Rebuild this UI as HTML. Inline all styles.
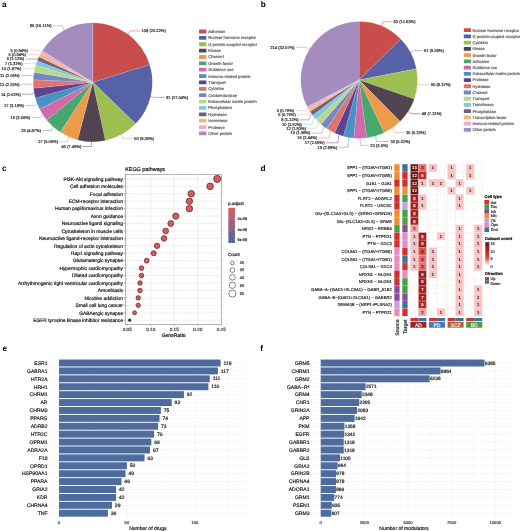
<!DOCTYPE html><html><head><meta charset="utf-8"><style>html,body{margin:0;padding:0;background:#fff;overflow:hidden}svg{display:block;filter:blur(0.35px);font-family:"Liberation Sans",sans-serif}text{text-rendering:geometricPrecision;stroke-width:0.2px}</style></head><body>
<svg width="520" height="531" viewBox="0 0 520 531" font-family="Liberation Sans, sans-serif">
<rect width="520" height="531" fill="#fff"/>
<text x="2" y="6.6" font-size="8.2" font-weight="bold" fill="#000" stroke="none">a</text>
<text x="260.8" y="6.6" font-size="8.2" font-weight="bold" fill="#000" stroke="none">b</text>
<text x="2" y="171.3" font-size="8.2" font-weight="bold" fill="#000" stroke="none">c</text>
<text x="260.4" y="171" font-size="8.2" font-weight="bold" fill="#000" stroke="none">d</text>
<text x="2.6" y="350.8" font-size="8.2" font-weight="bold" fill="#000" stroke="none">e</text>
<text x="260.3" y="350.8" font-size="8.2" font-weight="bold" fill="#000" stroke="none">f</text>
<g font-size="4.05" fill="#333">
<path d="M92.8,82.3 L92.80,22.70 A59.6,59.6 0 0 1 149.74,64.68 Z" fill="#c94d4b" stroke="#fff" stroke-width="0.25" stroke-opacity="0.5"/>
<path d="M92.8,82.3 L149.74,64.68 A59.6,59.6 0 0 1 135.56,123.82 Z" fill="#5562a8" stroke="#fff" stroke-width="0.25" stroke-opacity="0.5"/>
<path d="M92.8,82.3 L135.56,123.82 A59.6,59.6 0 0 1 105.33,140.57 Z" fill="#9dbf50" stroke="#fff" stroke-width="0.25" stroke-opacity="0.5"/>
<path d="M92.8,82.3 L105.33,140.57 A59.6,59.6 0 0 1 77.54,139.91 Z" fill="#524450" stroke="#fff" stroke-width="0.25" stroke-opacity="0.5"/>
<path d="M92.8,82.3 L77.54,139.91 A59.6,59.6 0 0 1 60.31,132.27 Z" fill="#ee9a4b" stroke="#fff" stroke-width="0.25" stroke-opacity="0.5"/>
<path d="M92.8,82.3 L60.31,132.27 A59.6,59.6 0 0 1 46.77,120.16 Z" fill="#47a76d" stroke="#fff" stroke-width="0.25" stroke-opacity="0.5"/>
<path d="M92.8,82.3 L46.77,120.16 A59.6,59.6 0 0 1 39.52,109.01 Z" fill="#d16aab" stroke="#fff" stroke-width="0.25" stroke-opacity="0.5"/>
<path d="M92.8,82.3 L39.52,109.01 A59.6,59.6 0 0 1 35.28,97.89 Z" fill="#4a91c4" stroke="#fff" stroke-width="0.25" stroke-opacity="0.5"/>
<path d="M92.8,82.3 L35.28,97.89 A59.6,59.6 0 0 1 33.50,88.25 Z" fill="#5d4392" stroke="#fff" stroke-width="0.25" stroke-opacity="0.5"/>
<path d="M92.8,82.3 L33.50,88.25 A59.6,59.6 0 0 1 33.25,79.85 Z" fill="#e0736d" stroke="#fff" stroke-width="0.25" stroke-opacity="0.5"/>
<path d="M92.8,82.3 L33.25,79.85 A59.6,59.6 0 0 1 34.07,72.18 Z" fill="#7387c5" stroke="#fff" stroke-width="0.25" stroke-opacity="0.5"/>
<path d="M92.8,82.3 L34.07,72.18 A59.6,59.6 0 0 1 35.66,65.36 Z" fill="#b5d88b" stroke="#fff" stroke-width="0.25" stroke-opacity="0.5"/>
<path d="M92.8,82.3 L35.66,65.36 A59.6,59.6 0 0 1 37.25,60.71 Z" fill="#80c5e1" stroke="#fff" stroke-width="0.25" stroke-opacity="0.5"/>
<path d="M92.8,82.3 L37.25,60.71 A59.6,59.6 0 0 1 38.91,56.85 Z" fill="#725f79" stroke="#fff" stroke-width="0.25" stroke-opacity="0.5"/>
<path d="M92.8,82.3 L38.91,56.85 A59.6,59.6 0 0 1 40.50,53.72 Z" fill="#f1b776" stroke="#fff" stroke-width="0.25" stroke-opacity="0.5"/>
<path d="M92.8,82.3 L40.50,53.72 A59.6,59.6 0 0 1 42.27,50.70 Z" fill="#f2a7cf" stroke="#fff" stroke-width="0.25" stroke-opacity="0.5"/>
<path d="M92.8,82.3 L42.27,50.70 A59.6,59.6 0 0 1 92.80,22.70 Z" fill="#a48cbf" stroke="#fff" stroke-width="0.25" stroke-opacity="0.5"/>
<polyline points="128.17,34.33 129.95,30.90 140.30,30.90" fill="none" stroke="#c94d4b" stroke-width="0.5"/>
<text stroke="#333" x="141.50" y="32.35">108 (20.22%)</text>
<polyline points="150.76,96.20 153.67,97.40 164.80,97.40" fill="none" stroke="#5562a8" stroke-width="0.5"/>
<text stroke="#333" x="166.00" y="98.85">91 (17.04%)</text>
<polyline points="121.68,134.43 123.14,138.70 133.00,138.70" fill="none" stroke="#9dbf50" stroke-width="0.5"/>
<text stroke="#333" x="134.20" y="140.15">50 (9.36%)</text>
<polyline points="91.40,141.88 91.33,146.50 82.60,146.50" fill="none" stroke="#524450" stroke-width="0.5"/>
<text stroke="#333" x="81.40" y="147.95" text-anchor="end">40 (7.49%)</text>
<polyline points="68.62,136.78 67.41,141.70 59.20,141.70" fill="none" stroke="#ee9a4b" stroke-width="0.5"/>
<text stroke="#333" x="58.00" y="143.15" text-anchor="end">27 (5.06%)</text>
<polyline points="53.08,126.73 51.08,130.60 42.20,130.60" fill="none" stroke="#47a76d" stroke-width="0.5"/>
<text stroke="#333" x="41.00" y="132.05" text-anchor="end">26 (4.87%)</text>
<polyline points="42.83,114.79 40.32,117.70 31.40,117.70" fill="none" stroke="#d16aab" stroke-width="0.5"/>
<text stroke="#333" x="30.20" y="119.15" text-anchor="end">19 (3.56%)</text>
<polyline points="37.12,103.56 34.32,105.60 25.10,105.60" fill="none" stroke="#4a91c4" stroke-width="0.5"/>
<text stroke="#333" x="23.90" y="107.05" text-anchor="end">17 (3.18%)</text>
<polyline points="34.19,93.11 31.24,94.20 22.00,94.20" fill="none" stroke="#5d4392" stroke-width="0.5"/>
<text stroke="#333" x="20.80" y="95.65" text-anchor="end">14 (2.62%)</text>
<polyline points="33.23,84.05 30.23,84.20 20.80,84.20" fill="none" stroke="#e0736d" stroke-width="0.5"/>
<text stroke="#333" x="19.60" y="85.65" text-anchor="end">12 (2.25%)</text>
<polyline points="33.53,76.00 30.55,75.50 20.80,75.50" fill="none" stroke="#7387c5" stroke-width="0.5"/>
<text stroke="#333" x="19.60" y="76.95" text-anchor="end">11 (2.06%)</text>
<polyline points="34.76,68.74 31.84,68.30 22.50,68.30" fill="none" stroke="#b5d88b" stroke-width="0.5"/>
<text stroke="#333" x="21.30" y="69.75" text-anchor="end">10 (1.87%)</text>
<polyline points="36.41,63.02 33.57,63.70 23.70,63.70" fill="none" stroke="#80c5e1" stroke-width="0.5"/>
<text stroke="#333" x="22.50" y="65.15" text-anchor="end">7 (1.31%)</text>
<polyline points="38.04,58.77 35.29,59.00 25.40,59.00" fill="none" stroke="#725f79" stroke-width="0.5"/>
<text stroke="#333" x="24.20" y="60.45" text-anchor="end">6 (1.12%)</text>
<polyline points="39.68,55.27 37.01,54.70 27.20,54.70" fill="none" stroke="#f1b776" stroke-width="0.5"/>
<text stroke="#333" x="26.00" y="56.15" text-anchor="end">5 (0.94%)</text>
<polyline points="41.36,52.20 38.77,50.20 29.20,50.20" fill="none" stroke="#f2a7cf" stroke-width="0.5"/>
<text stroke="#333" x="28.00" y="51.65" text-anchor="end">5 (0.94%)</text>
<polyline points="63.92,30.17 62.46,25.80 52.80,25.80" fill="none" stroke="#a48cbf" stroke-width="0.5"/>
<text stroke="#333" x="51.60" y="27.25" text-anchor="end">86 (16.11%)</text>
</g>
<g font-size="4.1" fill="#666">
<rect x="199" y="29.60" width="7.4" height="3.8" rx="0.6" fill="#c94d4b"/>
<text stroke="#666" x="208.3" y="32.95">Adhesion</text>
<rect x="199" y="35.97" width="7.4" height="3.8" rx="0.6" fill="#5562a8"/>
<text stroke="#666" x="208.3" y="39.32">Nuclear hormone receptor</text>
<rect x="199" y="42.34" width="7.4" height="3.8" rx="0.6" fill="#9dbf50"/>
<text stroke="#666" x="208.3" y="45.69">G protein-coupled receptor</text>
<rect x="199" y="48.71" width="7.4" height="3.8" rx="0.6" fill="#524450"/>
<text stroke="#666" x="208.3" y="52.06">Kinase</text>
<rect x="199" y="55.08" width="7.4" height="3.8" rx="0.6" fill="#ee9a4b"/>
<text stroke="#666" x="208.3" y="58.43">Channel</text>
<rect x="199" y="61.45" width="7.4" height="3.8" rx="0.6" fill="#47a76d"/>
<text stroke="#666" x="208.3" y="64.80">Growth factor</text>
<rect x="199" y="67.82" width="7.4" height="3.8" rx="0.6" fill="#d16aab"/>
<text stroke="#666" x="208.3" y="71.17">Guidance cue</text>
<rect x="199" y="74.19" width="7.4" height="3.8" rx="0.6" fill="#4a91c4"/>
<text stroke="#666" x="208.3" y="77.54">Immune-related protein</text>
<rect x="199" y="80.56" width="7.4" height="3.8" rx="0.6" fill="#5d4392"/>
<text stroke="#666" x="208.3" y="83.91">Transport</text>
<rect x="199" y="86.93" width="7.4" height="3.8" rx="0.6" fill="#e0736d"/>
<text stroke="#666" x="208.3" y="90.28">Cytokine</text>
<rect x="199" y="93.30" width="7.4" height="3.8" rx="0.6" fill="#7387c5"/>
<text stroke="#666" x="208.3" y="96.65">Oxidoreductase</text>
<rect x="199" y="99.67" width="7.4" height="3.8" rx="0.6" fill="#b5d88b"/>
<text stroke="#666" x="208.3" y="103.02">Extracellular matrix protein</text>
<rect x="199" y="106.04" width="7.4" height="3.8" rx="0.6" fill="#80c5e1"/>
<text stroke="#666" x="208.3" y="109.39">Phosphatase</text>
<rect x="199" y="112.41" width="7.4" height="3.8" rx="0.6" fill="#725f79"/>
<text stroke="#666" x="208.3" y="115.76">Hydrolase</text>
<rect x="199" y="118.78" width="7.4" height="3.8" rx="0.6" fill="#f1b776"/>
<text stroke="#666" x="208.3" y="122.13">Isomerase</text>
<rect x="199" y="125.15" width="7.4" height="3.8" rx="0.6" fill="#f2a7cf"/>
<text stroke="#666" x="208.3" y="128.50">Protease</text>
<rect x="199" y="131.52" width="7.4" height="3.8" rx="0.6" fill="#a48cbf"/>
<text stroke="#666" x="208.3" y="134.87">Other protein</text>
</g>
<g font-size="4.05" fill="#333">
<path d="M359.1,80.0 L359.10,21.60 A58.4,58.4 0 0 1 400.74,39.05 Z" fill="#c94d4b" stroke="#fff" stroke-width="0.25" stroke-opacity="0.5"/>
<path d="M359.1,80.0 L400.74,39.05 A58.4,58.4 0 0 1 416.41,68.76 Z" fill="#5562a8" stroke="#fff" stroke-width="0.25" stroke-opacity="0.5"/>
<path d="M359.1,80.0 L416.41,68.76 A58.4,58.4 0 0 1 414.30,99.05 Z" fill="#9dbf50" stroke="#fff" stroke-width="0.25" stroke-opacity="0.5"/>
<path d="M359.1,80.0 L414.30,99.05 A58.4,58.4 0 0 1 400.15,121.54 Z" fill="#524450" stroke="#fff" stroke-width="0.25" stroke-opacity="0.5"/>
<path d="M359.1,80.0 L400.15,121.54 A58.4,58.4 0 0 1 384.22,132.72 Z" fill="#ee9a4b" stroke="#fff" stroke-width="0.25" stroke-opacity="0.5"/>
<path d="M359.1,80.0 L384.22,132.72 A58.4,58.4 0 0 1 366.62,137.91 Z" fill="#47a76d" stroke="#fff" stroke-width="0.25" stroke-opacity="0.5"/>
<path d="M359.1,80.0 L366.62,137.91 A58.4,58.4 0 0 1 353.80,138.16 Z" fill="#d16aab" stroke="#fff" stroke-width="0.25" stroke-opacity="0.5"/>
<path d="M359.1,80.0 L353.80,138.16 A58.4,58.4 0 0 1 343.38,136.24 Z" fill="#4a91c4" stroke="#fff" stroke-width="0.25" stroke-opacity="0.5"/>
<path d="M359.1,80.0 L343.38,136.24 A58.4,58.4 0 0 1 334.48,132.96 Z" fill="#5d4392" stroke="#fff" stroke-width="0.25" stroke-opacity="0.5"/>
<path d="M359.1,80.0 L334.48,132.96 A58.4,58.4 0 0 1 326.70,128.59 Z" fill="#e0736d" stroke="#fff" stroke-width="0.25" stroke-opacity="0.5"/>
<path d="M359.1,80.0 L326.70,128.59 A58.4,58.4 0 0 1 320.92,124.19 Z" fill="#7387c5" stroke="#fff" stroke-width="0.25" stroke-opacity="0.5"/>
<path d="M359.1,80.0 L320.92,124.19 A58.4,58.4 0 0 1 316.11,119.53 Z" fill="#b5d88b" stroke="#fff" stroke-width="0.25" stroke-opacity="0.5"/>
<path d="M359.1,80.0 L316.11,119.53 A58.4,58.4 0 0 1 312.54,115.25 Z" fill="#80c5e1" stroke="#fff" stroke-width="0.25" stroke-opacity="0.5"/>
<path d="M359.1,80.0 L312.54,115.25 A58.4,58.4 0 0 1 309.98,111.58 Z" fill="#725f79" stroke="#fff" stroke-width="0.25" stroke-opacity="0.5"/>
<path d="M359.1,80.0 L309.98,111.58 A58.4,58.4 0 0 1 308.52,109.20 Z" fill="#f1b776" stroke="#fff" stroke-width="0.25" stroke-opacity="0.5"/>
<path d="M359.1,80.0 L308.52,109.20 A58.4,58.4 0 0 1 307.19,106.75 Z" fill="#f2a7cf" stroke="#fff" stroke-width="0.25" stroke-opacity="0.5"/>
<path d="M359.1,80.0 L307.19,106.75 A58.4,58.4 0 0 1 359.10,21.60 Z" fill="#a48cbf" stroke="#fff" stroke-width="0.25" stroke-opacity="0.5"/>
<polyline points="381.67,26.14 382.83,21.80 392.30,21.80" fill="none" stroke="#c94d4b" stroke-width="0.5"/>
<text stroke="#333" x="393.50" y="23.25">83 (12.63%)</text>
<polyline points="410.76,52.76 413.41,50.60 422.80,50.60" fill="none" stroke="#5562a8" stroke-width="0.5"/>
<text stroke="#333" x="424.00" y="52.05">61 (9.28%)</text>
<polyline points="417.36,84.05 420.35,84.80 429.70,84.80" fill="none" stroke="#9dbf50" stroke-width="0.5"/>
<text stroke="#333" x="430.90" y="86.25">55 (8.37%)</text>
<polyline points="408.52,111.11 411.06,113.80 420.60,113.80" fill="none" stroke="#524450" stroke-width="0.5"/>
<text stroke="#333" x="421.80" y="115.25">48 (7.31%)</text>
<polyline points="392.65,127.80 394.38,132.40 404.80,132.40" fill="none" stroke="#ee9a4b" stroke-width="0.5"/>
<text stroke="#333" x="406.00" y="133.85">35 (5.33%)</text>
<polyline points="375.63,136.01 376.48,141.50 389.20,141.50" fill="none" stroke="#47a76d" stroke-width="0.5"/>
<text stroke="#333" x="390.40" y="142.95">33 (5.02%)</text>
<polyline points="360.22,138.39 360.27,145.30 369.10,145.30" fill="none" stroke="#d16aab" stroke-width="0.5"/>
<text stroke="#333" x="370.30" y="146.75">23 (3.5%)</text>
<polyline points="348.55,137.44 348.00,147.20 338.50,147.20" fill="none" stroke="#4a91c4" stroke-width="0.5"/>
<text stroke="#333" x="337.30" y="148.65" text-anchor="end">19 (2.89%)</text>
<polyline points="338.86,134.78 337.82,142.80 325.70,142.80" fill="none" stroke="#5d4392" stroke-width="0.5"/>
<text stroke="#333" x="324.50" y="144.25" text-anchor="end">17 (2.59%)</text>
<polyline points="330.51,130.92 329.04,138.00 318.30,138.00" fill="none" stroke="#e0736d" stroke-width="0.5"/>
<text stroke="#333" x="317.10" y="139.45" text-anchor="end">16 (2.44%)</text>
<polyline points="323.74,126.48 321.93,133.00 311.60,133.00" fill="none" stroke="#7387c5" stroke-width="0.5"/>
<text stroke="#333" x="310.40" y="134.45" text-anchor="end">13 (1.98%)</text>
<polyline points="318.45,121.93 316.36,128.70 307.20,128.70" fill="none" stroke="#b5d88b" stroke-width="0.5"/>
<text stroke="#333" x="306.00" y="130.15" text-anchor="end">12 (1.83%)</text>
<polyline points="314.27,117.43 311.97,124.20 303.10,124.20" fill="none" stroke="#80c5e1" stroke-width="0.5"/>
<text stroke="#333" x="301.90" y="125.65" text-anchor="end">10 (1.52%)</text>
<polyline points="311.22,113.44 308.76,119.80 299.90,119.80" fill="none" stroke="#725f79" stroke-width="0.5"/>
<text stroke="#333" x="298.70" y="121.25" text-anchor="end">8 (1.22%)</text>
<polyline points="309.24,110.40 306.68,114.80 297.00,114.80" fill="none" stroke="#f1b776" stroke-width="0.5"/>
<text stroke="#333" x="295.80" y="116.25" text-anchor="end">5 (0.76%)</text>
<polyline points="307.84,107.98 305.21,110.40 295.40,110.40" fill="none" stroke="#f2a7cf" stroke-width="0.5"/>
<text stroke="#333" x="294.20" y="111.85" text-anchor="end">5 (0.76%)</text>
<polyline points="309.24,49.60 306.68,47.30 295.80,47.30" fill="none" stroke="#a48cbf" stroke-width="0.5"/>
<text stroke="#333" x="294.60" y="48.75" text-anchor="end">214 (32.57%)</text>
</g>
<g font-size="4.0" fill="#666">
<rect x="463.8" y="28.30" width="7.2" height="3.8" rx="0.6" fill="#c94d4b"/>
<text stroke="#666" x="472.5" y="31.65">Nuclear hormone receptor</text>
<rect x="463.8" y="34.53" width="7.2" height="3.8" rx="0.6" fill="#5562a8"/>
<text stroke="#666" x="472.5" y="37.88">G protein-coupled receptor</text>
<rect x="463.8" y="40.76" width="7.2" height="3.8" rx="0.6" fill="#9dbf50"/>
<text stroke="#666" x="472.5" y="44.11">Cytokine</text>
<rect x="463.8" y="46.99" width="7.2" height="3.8" rx="0.6" fill="#524450"/>
<text stroke="#666" x="472.5" y="50.34">Kinase</text>
<rect x="463.8" y="53.22" width="7.2" height="3.8" rx="0.6" fill="#ee9a4b"/>
<text stroke="#666" x="472.5" y="56.57">Growth factor</text>
<rect x="463.8" y="59.45" width="7.2" height="3.8" rx="0.6" fill="#47a76d"/>
<text stroke="#666" x="472.5" y="62.80">Adhesion</text>
<rect x="463.8" y="65.68" width="7.2" height="3.8" rx="0.6" fill="#d16aab"/>
<text stroke="#666" x="472.5" y="69.03">Guidance cue</text>
<rect x="463.8" y="71.91" width="7.2" height="3.8" rx="0.6" fill="#4a91c4"/>
<text stroke="#666" x="472.5" y="75.26">Extracellular matrix protein</text>
<rect x="463.8" y="78.14" width="7.2" height="3.8" rx="0.6" fill="#5d4392"/>
<text stroke="#666" x="472.5" y="81.49">Protease</text>
<rect x="463.8" y="84.37" width="7.2" height="3.8" rx="0.6" fill="#e0736d"/>
<text stroke="#666" x="472.5" y="87.72">Hydrolase</text>
<rect x="463.8" y="90.60" width="7.2" height="3.8" rx="0.6" fill="#7387c5"/>
<text stroke="#666" x="472.5" y="93.95">Channel</text>
<rect x="463.8" y="96.83" width="7.2" height="3.8" rx="0.6" fill="#b5d88b"/>
<text stroke="#666" x="472.5" y="100.18">Transport</text>
<rect x="463.8" y="103.06" width="7.2" height="3.8" rx="0.6" fill="#80c5e1"/>
<text stroke="#666" x="472.5" y="106.41">Transferase</text>
<rect x="463.8" y="109.29" width="7.2" height="3.8" rx="0.6" fill="#725f79"/>
<text stroke="#666" x="472.5" y="112.64">Phosphatase</text>
<rect x="463.8" y="115.52" width="7.2" height="3.8" rx="0.6" fill="#f1b776"/>
<text stroke="#666" x="472.5" y="118.87">Transcription factor</text>
<rect x="463.8" y="121.75" width="7.2" height="3.8" rx="0.6" fill="#f2a7cf"/>
<text stroke="#666" x="472.5" y="125.10">Immune-related protein</text>
<rect x="463.8" y="127.98" width="7.2" height="3.8" rx="0.6" fill="#a48cbf"/>
<text stroke="#666" x="472.5" y="131.33">Other protein</text>
</g>
<rect x="125.5" y="174.4" width="96.0" height="149.9" fill="#fff"/>
<line x1="138.95" y1="174.4" x2="138.95" y2="324.3" stroke="#f0f0f0" stroke-width="0.35"/>
<line x1="162.45" y1="174.4" x2="162.45" y2="324.3" stroke="#f0f0f0" stroke-width="0.35"/>
<line x1="185.95" y1="174.4" x2="185.95" y2="324.3" stroke="#f0f0f0" stroke-width="0.35"/>
<line x1="209.45" y1="174.4" x2="209.45" y2="324.3" stroke="#f0f0f0" stroke-width="0.35"/>
<line x1="127.20" y1="174.4" x2="127.20" y2="324.3" stroke="#e4e4e4" stroke-width="0.55"/>
<line x1="150.70" y1="174.4" x2="150.70" y2="324.3" stroke="#e4e4e4" stroke-width="0.55"/>
<line x1="174.20" y1="174.4" x2="174.20" y2="324.3" stroke="#e4e4e4" stroke-width="0.55"/>
<line x1="197.70" y1="174.4" x2="197.70" y2="324.3" stroke="#e4e4e4" stroke-width="0.55"/>
<line x1="125.5" y1="178.90" x2="221.5" y2="178.90" stroke="#e4e4e4" stroke-width="0.55"/>
<line x1="125.5" y1="186.34" x2="221.5" y2="186.34" stroke="#e4e4e4" stroke-width="0.55"/>
<line x1="125.5" y1="193.77" x2="221.5" y2="193.77" stroke="#e4e4e4" stroke-width="0.55"/>
<line x1="125.5" y1="201.21" x2="221.5" y2="201.21" stroke="#e4e4e4" stroke-width="0.55"/>
<line x1="125.5" y1="208.65" x2="221.5" y2="208.65" stroke="#e4e4e4" stroke-width="0.55"/>
<line x1="125.5" y1="216.09" x2="221.5" y2="216.09" stroke="#e4e4e4" stroke-width="0.55"/>
<line x1="125.5" y1="223.52" x2="221.5" y2="223.52" stroke="#e4e4e4" stroke-width="0.55"/>
<line x1="125.5" y1="230.96" x2="221.5" y2="230.96" stroke="#e4e4e4" stroke-width="0.55"/>
<line x1="125.5" y1="238.40" x2="221.5" y2="238.40" stroke="#e4e4e4" stroke-width="0.55"/>
<line x1="125.5" y1="245.83" x2="221.5" y2="245.83" stroke="#e4e4e4" stroke-width="0.55"/>
<line x1="125.5" y1="253.27" x2="221.5" y2="253.27" stroke="#e4e4e4" stroke-width="0.55"/>
<line x1="125.5" y1="260.71" x2="221.5" y2="260.71" stroke="#e4e4e4" stroke-width="0.55"/>
<line x1="125.5" y1="268.14" x2="221.5" y2="268.14" stroke="#e4e4e4" stroke-width="0.55"/>
<line x1="125.5" y1="275.58" x2="221.5" y2="275.58" stroke="#e4e4e4" stroke-width="0.55"/>
<line x1="125.5" y1="283.02" x2="221.5" y2="283.02" stroke="#e4e4e4" stroke-width="0.55"/>
<line x1="125.5" y1="290.46" x2="221.5" y2="290.46" stroke="#e4e4e4" stroke-width="0.55"/>
<line x1="125.5" y1="297.89" x2="221.5" y2="297.89" stroke="#e4e4e4" stroke-width="0.55"/>
<line x1="125.5" y1="305.33" x2="221.5" y2="305.33" stroke="#e4e4e4" stroke-width="0.55"/>
<line x1="125.5" y1="312.77" x2="221.5" y2="312.77" stroke="#e4e4e4" stroke-width="0.55"/>
<line x1="125.5" y1="320.20" x2="221.5" y2="320.20" stroke="#e4e4e4" stroke-width="0.55"/>
<rect x="125.5" y="174.4" width="96.0" height="149.9" fill="none" stroke="#6a6a6a" stroke-width="0.5"/>
<g font-size="4.9" fill="#1a1a1a" text-anchor="end">
<text stroke="#1a1a1a" x="123" y="180.65">PI3K-Akt signaling pathway</text>
<line x1="123.6" y1="178.90" x2="125.5" y2="178.90" stroke="#333" stroke-width="0.4"/>
<text stroke="#1a1a1a" x="123" y="188.09">Cell adhesion molecules</text>
<line x1="123.6" y1="186.34" x2="125.5" y2="186.34" stroke="#333" stroke-width="0.4"/>
<text stroke="#1a1a1a" x="123" y="195.52">Focal adhesion</text>
<line x1="123.6" y1="193.77" x2="125.5" y2="193.77" stroke="#333" stroke-width="0.4"/>
<text stroke="#1a1a1a" x="123" y="202.96">ECM-receptor interaction</text>
<line x1="123.6" y1="201.21" x2="125.5" y2="201.21" stroke="#333" stroke-width="0.4"/>
<text stroke="#1a1a1a" x="123" y="210.40">Human papillomavirus infection</text>
<line x1="123.6" y1="208.65" x2="125.5" y2="208.65" stroke="#333" stroke-width="0.4"/>
<text stroke="#1a1a1a" x="123" y="217.84">Axon guidance</text>
<line x1="123.6" y1="216.09" x2="125.5" y2="216.09" stroke="#333" stroke-width="0.4"/>
<text stroke="#1a1a1a" x="123" y="225.27">Neuroactive ligand signaling</text>
<line x1="123.6" y1="223.52" x2="125.5" y2="223.52" stroke="#333" stroke-width="0.4"/>
<text stroke="#1a1a1a" x="123" y="232.71">Cytoskeleton in muscle cells</text>
<line x1="123.6" y1="230.96" x2="125.5" y2="230.96" stroke="#333" stroke-width="0.4"/>
<text stroke="#1a1a1a" x="123" y="240.15">Neuroactive ligand-receptor interaction</text>
<line x1="123.6" y1="238.40" x2="125.5" y2="238.40" stroke="#333" stroke-width="0.4"/>
<text stroke="#1a1a1a" x="123" y="247.58">Regulation of actin cytoskeleton</text>
<line x1="123.6" y1="245.83" x2="125.5" y2="245.83" stroke="#333" stroke-width="0.4"/>
<text stroke="#1a1a1a" x="123" y="255.02">Rap1 signaling pathway</text>
<line x1="123.6" y1="253.27" x2="125.5" y2="253.27" stroke="#333" stroke-width="0.4"/>
<text stroke="#1a1a1a" x="123" y="262.46">Glutamatergic synapse</text>
<line x1="123.6" y1="260.71" x2="125.5" y2="260.71" stroke="#333" stroke-width="0.4"/>
<text stroke="#1a1a1a" x="123" y="269.89">Hypertrophic cardiomyopathy</text>
<line x1="123.6" y1="268.14" x2="125.5" y2="268.14" stroke="#333" stroke-width="0.4"/>
<text stroke="#1a1a1a" x="123" y="277.33">Dilated cardiomyopathy</text>
<line x1="123.6" y1="275.58" x2="125.5" y2="275.58" stroke="#333" stroke-width="0.4"/>
<text stroke="#1a1a1a" x="123" y="284.77">Arrhythmogenic right ventricular cardiomyopathy</text>
<line x1="123.6" y1="283.02" x2="125.5" y2="283.02" stroke="#333" stroke-width="0.4"/>
<text stroke="#1a1a1a" x="123" y="292.21">Amoebiasis</text>
<line x1="123.6" y1="290.46" x2="125.5" y2="290.46" stroke="#333" stroke-width="0.4"/>
<text stroke="#1a1a1a" x="123" y="299.64">Nicotine addiction</text>
<line x1="123.6" y1="297.89" x2="125.5" y2="297.89" stroke="#333" stroke-width="0.4"/>
<text stroke="#1a1a1a" x="123" y="307.08">Small cell lung cancer</text>
<line x1="123.6" y1="305.33" x2="125.5" y2="305.33" stroke="#333" stroke-width="0.4"/>
<text stroke="#1a1a1a" x="123" y="314.52">GABAergic synapse</text>
<line x1="123.6" y1="312.77" x2="125.5" y2="312.77" stroke="#333" stroke-width="0.4"/>
<text stroke="#1a1a1a" x="123" y="321.95">EGFR tyrosine kinase inhibitor resistance</text>
<line x1="123.6" y1="320.20" x2="125.5" y2="320.20" stroke="#333" stroke-width="0.4"/>
</g>
<circle cx="217.2" cy="178.90" r="3.55" fill="#d65a5e" stroke="#6e2c2c" stroke-width="0.8"/>
<circle cx="210.1" cy="186.34" r="3.35" fill="#d65a5e" stroke="#6e2c2c" stroke-width="0.8"/>
<circle cx="191.25" cy="193.77" r="3.25" fill="#d65a5e" stroke="#6e2c2c" stroke-width="0.8"/>
<circle cx="189.4" cy="201.21" r="3.20" fill="#d65a5e" stroke="#6e2c2c" stroke-width="0.8"/>
<circle cx="189.4" cy="208.65" r="3.20" fill="#d65a5e" stroke="#6e2c2c" stroke-width="0.8"/>
<circle cx="175.8" cy="216.09" r="3.10" fill="#d65a5e" stroke="#6e2c2c" stroke-width="0.8"/>
<circle cx="170.8" cy="223.52" r="2.90" fill="#d65a5e" stroke="#6e2c2c" stroke-width="0.8"/>
<circle cx="165.7" cy="230.96" r="2.80" fill="#d65a5e" stroke="#6e2c2c" stroke-width="0.8"/>
<circle cx="164.0" cy="238.40" r="2.75" fill="#d65a5e" stroke="#6e2c2c" stroke-width="0.8"/>
<circle cx="157.1" cy="245.83" r="2.70" fill="#d65a5e" stroke="#6e2c2c" stroke-width="0.8"/>
<circle cx="153.7" cy="253.27" r="2.55" fill="#d65a5e" stroke="#6e2c2c" stroke-width="0.8"/>
<circle cx="146.7" cy="260.71" r="2.45" fill="#d65a5e" stroke="#6e2c2c" stroke-width="0.8"/>
<circle cx="141.5" cy="268.14" r="2.30" fill="#d65a5e" stroke="#6e2c2c" stroke-width="0.8"/>
<circle cx="141.5" cy="275.58" r="2.30" fill="#d65a5e" stroke="#6e2c2c" stroke-width="0.8"/>
<circle cx="140.0" cy="283.02" r="2.25" fill="#d65a5e" stroke="#6e2c2c" stroke-width="0.8"/>
<circle cx="140.0" cy="290.46" r="2.25" fill="#d65a5e" stroke="#6e2c2c" stroke-width="0.8"/>
<circle cx="138.2" cy="297.89" r="2.20" fill="#d65a5e" stroke="#6e2c2c" stroke-width="0.8"/>
<circle cx="138.2" cy="305.33" r="2.20" fill="#d65a5e" stroke="#6e2c2c" stroke-width="0.8"/>
<circle cx="134.6" cy="312.77" r="2.00" fill="#d65a5e" stroke="#6e2c2c" stroke-width="0.8"/>
<circle cx="129.7" cy="320.20" r="1.30" fill="#3c4d78" stroke="#222a40" stroke-width="0.8"/>
<g font-size="4.7" fill="#444" text-anchor="middle">
<line x1="127.20" y1="324.3" x2="127.20" y2="325.5" stroke="#333" stroke-width="0.4"/>
<text stroke="#444" x="127.20" y="330.7">0.05</text>
<line x1="150.70" y1="324.3" x2="150.70" y2="325.5" stroke="#333" stroke-width="0.4"/>
<text stroke="#444" x="150.70" y="330.7">0.10</text>
<line x1="174.20" y1="324.3" x2="174.20" y2="325.5" stroke="#333" stroke-width="0.4"/>
<text stroke="#444" x="174.20" y="330.7">0.15</text>
<line x1="197.70" y1="324.3" x2="197.70" y2="325.5" stroke="#333" stroke-width="0.4"/>
<text stroke="#444" x="197.70" y="330.7">0.20</text>
<line x1="221.20" y1="324.3" x2="221.20" y2="325.5" stroke="#333" stroke-width="0.4"/>
<text stroke="#444" x="221.20" y="330.7">0.25</text>
</g>
<text stroke="#111" x="173.6" y="337" font-size="5" fill="#111" text-anchor="middle">GeneRatio</text>
<text stroke="#111" x="125.2" y="171" font-size="5.4" fill="#111">KEGG pathways</text>
<defs><linearGradient id="pg" x1="0" y1="0" x2="0" y2="1"><stop offset="0" stop-color="#d95e66"/><stop offset="0.5" stop-color="#9c6184"/><stop offset="1" stop-color="#4b6699"/></linearGradient><linearGradient id="dg" x1="0" y1="0" x2="0" y2="1"><stop offset="0" stop-color="#5a1414"/><stop offset="0.35" stop-color="#a82424"/><stop offset="0.7" stop-color="#e04848"/><stop offset="1" stop-color="#fde8e8"/></linearGradient></defs>
<text stroke="#222" x="228.3" y="204.8" font-size="4.4" fill="#222">p.adjust</text>
<rect x="228.3" y="207.8" width="6.7" height="35.1" fill="url(#pg)"/>
<g font-size="3.8" fill="#333">
<line x1="228.3" y1="218.8" x2="229.5" y2="218.8" stroke="#fff" stroke-width="0.4"/><line x1="233.8" y1="218.8" x2="235" y2="218.8" stroke="#fff" stroke-width="0.4"/>
<text stroke="#333" x="237.5" y="220.10000000000002">2e-08</text>
<line x1="228.3" y1="229.3" x2="229.5" y2="229.3" stroke="#fff" stroke-width="0.4"/><line x1="233.8" y1="229.3" x2="235" y2="229.3" stroke="#fff" stroke-width="0.4"/>
<text stroke="#333" x="237.5" y="230.60000000000002">4e-08</text>
<line x1="228.3" y1="239.8" x2="229.5" y2="239.8" stroke="#fff" stroke-width="0.4"/><line x1="233.8" y1="239.8" x2="235" y2="239.8" stroke="#fff" stroke-width="0.4"/>
<text stroke="#333" x="237.5" y="241.10000000000002">6e-08</text>
</g>
<text stroke="#222" x="228" y="256.3" font-size="4.4" fill="#222">Count</text>
<g font-size="3.8" fill="#333">
<circle cx="232.4" cy="263" r="1.85" fill="none" stroke="#333" stroke-width="0.6"/>
<text stroke="#333" x="239.8" y="264.3">20</text>
<circle cx="232.4" cy="270.1" r="2.35" fill="none" stroke="#333" stroke-width="0.6"/>
<text stroke="#333" x="239.8" y="271.40000000000003">30</text>
<circle cx="232.4" cy="277.3" r="2.80" fill="none" stroke="#333" stroke-width="0.6"/>
<text stroke="#333" x="239.8" y="278.6">40</text>
<circle cx="232.4" cy="285.3" r="3.15" fill="none" stroke="#333" stroke-width="0.6"/>
<text stroke="#333" x="239.8" y="286.6">50</text>
<circle cx="232.4" cy="293.6" r="3.60" fill="none" stroke="#333" stroke-width="0.6"/>
<text stroke="#333" x="239.8" y="294.90000000000003">60</text>
</g>
<g font-size="4.2" fill="#333" text-anchor="end">
<text stroke="#333" x="391.8" y="169.35">SPP1 − (ITGAV+ITGB1)</text>
<text stroke="#333" x="391.8" y="176.95">SPP1 − (ITGAV+ITGB5)</text>
<text stroke="#333" x="391.8" y="184.55">GJA1 − GJA1</text>
<text stroke="#333" x="391.8" y="192.15">SPP1 − (ITGAV+ITGB6)</text>
<text stroke="#333" x="391.8" y="199.75">FLRT2 − ADGRL2</text>
<text stroke="#333" x="391.8" y="207.35">FLRT2 − UNC5C</text>
<text stroke="#333" x="391.8" y="214.95">Glu−(SLC1A3+GLS) − (GRIN1+GRIN2A)</text>
<text stroke="#333" x="391.8" y="222.55">Glu−(SLC1A3+GLS) − GRM5</text>
<text stroke="#333" x="391.8" y="230.15">NRG2 − ERBB4</text>
<text stroke="#333" x="391.8" y="237.75">PTN − PTPRZ1</text>
<text stroke="#333" x="391.8" y="245.35">PTN − SDC3</text>
<text stroke="#333" x="391.8" y="252.95">COL9A1 − (ITGAV+ITGB8)</text>
<text stroke="#333" x="391.8" y="260.55">COL9A1 − (ITGA1+ITGB1)</text>
<text stroke="#333" x="391.8" y="268.15">COL9A1 − SDC4</text>
<text stroke="#333" x="391.8" y="275.75">NRXN1 − NLGN1</text>
<text stroke="#333" x="391.8" y="283.35">NRXN1 − NLGN1</text>
<text stroke="#333" x="391.8" y="290.95">GABA−A−(GAD1+SLC6A1) − GABR_A1B2</text>
<text stroke="#333" x="391.8" y="298.55">GABA−B−(GAD1+SLC6A1) − GABBR2</text>
<text stroke="#333" x="391.8" y="306.15">SEMA3B − (NRP1+PLXNA2)</text>
<text stroke="#333" x="391.8" y="313.75">PTN − PTPRZ1</text>
</g>
<rect x="394.3" y="164.10" width="5.3" height="7.60" fill="#ef8e34"/>
<rect x="402.3" y="164.10" width="5.3" height="7.60" fill="#3f6f9e"/>
<line x1="394.3" y1="164.10" x2="399.6" y2="164.10" stroke="#fff" stroke-width="0.3" stroke-opacity="0.6"/>
<line x1="402.3" y1="164.10" x2="407.6" y2="164.10" stroke="#fff" stroke-width="0.3" stroke-opacity="0.6"/>
<rect x="394.3" y="171.70" width="5.3" height="7.60" fill="#ef8e34"/>
<rect x="402.3" y="171.70" width="5.3" height="7.60" fill="#d0302e"/>
<line x1="394.3" y1="171.70" x2="399.6" y2="171.70" stroke="#fff" stroke-width="0.3" stroke-opacity="0.6"/>
<line x1="402.3" y1="171.70" x2="407.6" y2="171.70" stroke="#fff" stroke-width="0.3" stroke-opacity="0.6"/>
<rect x="394.3" y="179.30" width="5.3" height="7.60" fill="#d0302e"/>
<rect x="402.3" y="179.30" width="5.3" height="7.60" fill="#d0302e"/>
<line x1="394.3" y1="179.30" x2="399.6" y2="179.30" stroke="#fff" stroke-width="0.3" stroke-opacity="0.6"/>
<line x1="402.3" y1="179.30" x2="407.6" y2="179.30" stroke="#fff" stroke-width="0.3" stroke-opacity="0.6"/>
<rect x="394.3" y="186.90" width="5.3" height="7.60" fill="#ef8e34"/>
<rect x="402.3" y="186.90" width="5.3" height="7.60" fill="#ef8e34"/>
<line x1="394.3" y1="186.90" x2="399.6" y2="186.90" stroke="#fff" stroke-width="0.3" stroke-opacity="0.6"/>
<line x1="402.3" y1="186.90" x2="407.6" y2="186.90" stroke="#fff" stroke-width="0.3" stroke-opacity="0.6"/>
<rect x="394.3" y="194.50" width="5.3" height="7.60" fill="#d0302e"/>
<rect x="402.3" y="194.50" width="5.3" height="7.60" fill="#45a046"/>
<line x1="394.3" y1="194.50" x2="399.6" y2="194.50" stroke="#fff" stroke-width="0.3" stroke-opacity="0.6"/>
<line x1="402.3" y1="194.50" x2="407.6" y2="194.50" stroke="#fff" stroke-width="0.3" stroke-opacity="0.6"/>
<rect x="394.3" y="202.10" width="5.3" height="7.60" fill="#d0302e"/>
<rect x="402.3" y="202.10" width="5.3" height="7.60" fill="#c9a0d6"/>
<line x1="394.3" y1="202.10" x2="399.6" y2="202.10" stroke="#fff" stroke-width="0.3" stroke-opacity="0.6"/>
<line x1="402.3" y1="202.10" x2="407.6" y2="202.10" stroke="#fff" stroke-width="0.3" stroke-opacity="0.6"/>
<rect x="394.3" y="209.70" width="5.3" height="7.60" fill="#ef8e34"/>
<rect x="402.3" y="209.70" width="5.3" height="7.60" fill="#45a046"/>
<line x1="394.3" y1="209.70" x2="399.6" y2="209.70" stroke="#fff" stroke-width="0.3" stroke-opacity="0.6"/>
<line x1="402.3" y1="209.70" x2="407.6" y2="209.70" stroke="#fff" stroke-width="0.3" stroke-opacity="0.6"/>
<rect x="394.3" y="217.30" width="5.3" height="7.60" fill="#ef8e34"/>
<rect x="402.3" y="217.30" width="5.3" height="7.60" fill="#45a046"/>
<line x1="394.3" y1="217.30" x2="399.6" y2="217.30" stroke="#fff" stroke-width="0.3" stroke-opacity="0.6"/>
<line x1="402.3" y1="217.30" x2="407.6" y2="217.30" stroke="#fff" stroke-width="0.3" stroke-opacity="0.6"/>
<rect x="394.3" y="224.90" width="5.3" height="7.60" fill="#45a046"/>
<rect x="402.3" y="224.90" width="5.3" height="7.60" fill="#8a4a9e"/>
<line x1="394.3" y1="224.90" x2="399.6" y2="224.90" stroke="#fff" stroke-width="0.3" stroke-opacity="0.6"/>
<line x1="402.3" y1="224.90" x2="407.6" y2="224.90" stroke="#fff" stroke-width="0.3" stroke-opacity="0.6"/>
<rect x="394.3" y="232.50" width="5.3" height="7.60" fill="#d0302e"/>
<rect x="402.3" y="232.50" width="5.3" height="7.60" fill="#e88cc0"/>
<line x1="394.3" y1="232.50" x2="399.6" y2="232.50" stroke="#fff" stroke-width="0.3" stroke-opacity="0.6"/>
<line x1="402.3" y1="232.50" x2="407.6" y2="232.50" stroke="#fff" stroke-width="0.3" stroke-opacity="0.6"/>
<rect x="394.3" y="240.10" width="5.3" height="7.60" fill="#d0302e"/>
<rect x="402.3" y="240.10" width="5.3" height="7.60" fill="#e88cc0"/>
<line x1="394.3" y1="240.10" x2="399.6" y2="240.10" stroke="#fff" stroke-width="0.3" stroke-opacity="0.6"/>
<line x1="402.3" y1="240.10" x2="407.6" y2="240.10" stroke="#fff" stroke-width="0.3" stroke-opacity="0.6"/>
<rect x="394.3" y="247.70" width="5.3" height="7.60" fill="#e88cc0"/>
<rect x="402.3" y="247.70" width="5.3" height="7.60" fill="#d0302e"/>
<line x1="394.3" y1="247.70" x2="399.6" y2="247.70" stroke="#fff" stroke-width="0.3" stroke-opacity="0.6"/>
<line x1="402.3" y1="247.70" x2="407.6" y2="247.70" stroke="#fff" stroke-width="0.3" stroke-opacity="0.6"/>
<rect x="394.3" y="255.30" width="5.3" height="7.60" fill="#e88cc0"/>
<rect x="402.3" y="255.30" width="5.3" height="7.60" fill="#3f6f9e"/>
<line x1="394.3" y1="255.30" x2="399.6" y2="255.30" stroke="#fff" stroke-width="0.3" stroke-opacity="0.6"/>
<line x1="402.3" y1="255.30" x2="407.6" y2="255.30" stroke="#fff" stroke-width="0.3" stroke-opacity="0.6"/>
<rect x="394.3" y="262.90" width="5.3" height="7.60" fill="#e88cc0"/>
<rect x="402.3" y="262.90" width="5.3" height="7.60" fill="#d0302e"/>
<line x1="394.3" y1="262.90" x2="399.6" y2="262.90" stroke="#fff" stroke-width="0.3" stroke-opacity="0.6"/>
<line x1="402.3" y1="262.90" x2="407.6" y2="262.90" stroke="#fff" stroke-width="0.3" stroke-opacity="0.6"/>
<rect x="394.3" y="270.50" width="5.3" height="7.60" fill="#d0302e"/>
<rect x="402.3" y="270.50" width="5.3" height="7.60" fill="#e88cc0"/>
<line x1="394.3" y1="270.50" x2="399.6" y2="270.50" stroke="#fff" stroke-width="0.3" stroke-opacity="0.6"/>
<line x1="402.3" y1="270.50" x2="407.6" y2="270.50" stroke="#fff" stroke-width="0.3" stroke-opacity="0.6"/>
<rect x="394.3" y="278.10" width="5.3" height="7.60" fill="#d0302e"/>
<rect x="402.3" y="278.10" width="5.3" height="7.60" fill="#45a046"/>
<line x1="394.3" y1="278.10" x2="399.6" y2="278.10" stroke="#fff" stroke-width="0.3" stroke-opacity="0.6"/>
<line x1="402.3" y1="278.10" x2="407.6" y2="278.10" stroke="#fff" stroke-width="0.3" stroke-opacity="0.6"/>
<rect x="394.3" y="285.70" width="5.3" height="7.60" fill="#8a4a9e"/>
<rect x="402.3" y="285.70" width="5.3" height="7.60" fill="#45a046"/>
<line x1="394.3" y1="285.70" x2="399.6" y2="285.70" stroke="#fff" stroke-width="0.3" stroke-opacity="0.6"/>
<line x1="402.3" y1="285.70" x2="407.6" y2="285.70" stroke="#fff" stroke-width="0.3" stroke-opacity="0.6"/>
<rect x="394.3" y="293.30" width="5.3" height="7.60" fill="#8a4a9e"/>
<rect x="402.3" y="293.30" width="5.3" height="7.60" fill="#8a4a9e"/>
<line x1="394.3" y1="293.30" x2="399.6" y2="293.30" stroke="#fff" stroke-width="0.3" stroke-opacity="0.6"/>
<line x1="402.3" y1="293.30" x2="407.6" y2="293.30" stroke="#fff" stroke-width="0.3" stroke-opacity="0.6"/>
<rect x="394.3" y="300.90" width="5.3" height="7.60" fill="#c9a0d6"/>
<rect x="402.3" y="300.90" width="5.3" height="7.60" fill="#3f6f9e"/>
<line x1="394.3" y1="300.90" x2="399.6" y2="300.90" stroke="#fff" stroke-width="0.3" stroke-opacity="0.6"/>
<line x1="402.3" y1="300.90" x2="407.6" y2="300.90" stroke="#fff" stroke-width="0.3" stroke-opacity="0.6"/>
<rect x="394.3" y="308.50" width="5.3" height="7.60" fill="#e88cc0"/>
<rect x="402.3" y="308.50" width="5.3" height="7.60" fill="#d0302e"/>
<line x1="394.3" y1="308.50" x2="399.6" y2="308.50" stroke="#fff" stroke-width="0.3" stroke-opacity="0.6"/>
<line x1="402.3" y1="308.50" x2="407.6" y2="308.50" stroke="#fff" stroke-width="0.3" stroke-opacity="0.6"/>
<rect x="410.4" y="164.1" width="16.0" height="152.00" fill="#fff"/>
<rect x="410.40" y="164.10" width="8.00" height="7.60" fill="#681515"/>
<rect x="418.40" y="164.10" width="8.00" height="7.60" fill="#ee6a6a"/>
<rect x="410.40" y="171.70" width="8.00" height="7.60" fill="#6e1616"/>
<rect x="418.40" y="171.70" width="8.00" height="7.60" fill="#c02424"/>
<rect x="410.40" y="179.30" width="8.00" height="7.60" fill="#6e1616"/>
<rect x="418.40" y="179.30" width="8.00" height="7.60" fill="#f7c4c4"/>
<rect x="410.40" y="186.90" width="8.00" height="7.60" fill="#6e1616"/>
<rect x="410.40" y="194.50" width="8.00" height="7.60" fill="#a21f1f"/>
<rect x="418.40" y="194.50" width="8.00" height="7.60" fill="#f7c4c4"/>
<rect x="410.40" y="202.10" width="8.00" height="7.60" fill="#a21f1f"/>
<rect x="418.40" y="202.10" width="8.00" height="7.60" fill="#f7c4c4"/>
<rect x="410.40" y="209.70" width="8.00" height="7.60" fill="#a21f1f"/>
<rect x="410.40" y="217.30" width="8.00" height="7.60" fill="#a21f1f"/>
<rect x="410.40" y="224.90" width="8.00" height="7.60" fill="#f2a2a2"/>
<rect x="410.40" y="232.50" width="8.00" height="7.60" fill="#f7c4c4"/>
<rect x="418.40" y="232.50" width="8.00" height="7.60" fill="#a21f1f"/>
<rect x="410.40" y="240.10" width="8.00" height="7.60" fill="#f7c4c4"/>
<rect x="418.40" y="240.10" width="8.00" height="7.60" fill="#a21f1f"/>
<rect x="410.40" y="247.70" width="8.00" height="7.60" fill="#f7c4c4"/>
<rect x="418.40" y="247.70" width="8.00" height="7.60" fill="#e24a4a"/>
<rect x="410.40" y="255.30" width="8.00" height="7.60" fill="#f7c4c4"/>
<rect x="418.40" y="255.30" width="8.00" height="7.60" fill="#ee6a6a"/>
<rect x="410.40" y="262.90" width="8.00" height="7.60" fill="#f7c4c4"/>
<rect x="418.40" y="262.90" width="8.00" height="7.60" fill="#ee6a6a"/>
<rect x="418.40" y="270.50" width="8.00" height="7.60" fill="#941c1c"/>
<rect x="418.40" y="278.10" width="8.00" height="7.60" fill="#941c1c"/>
<rect x="418.40" y="285.70" width="8.00" height="7.60" fill="#aa2020"/>
<rect x="418.40" y="293.30" width="8.00" height="7.60" fill="#aa2020"/>
<rect x="418.40" y="300.90" width="8.00" height="7.60" fill="#c02424"/>
<rect x="418.40" y="308.50" width="8.00" height="7.60" fill="#f2a2a2"/>
<line x1="410.4" y1="164.10" x2="426.4" y2="164.10" stroke="#ead8d8" stroke-width="0.35"/>
<line x1="410.4" y1="171.70" x2="426.4" y2="171.70" stroke="#ead8d8" stroke-width="0.35"/>
<line x1="410.4" y1="179.30" x2="426.4" y2="179.30" stroke="#ead8d8" stroke-width="0.35"/>
<line x1="410.4" y1="186.90" x2="426.4" y2="186.90" stroke="#ead8d8" stroke-width="0.35"/>
<line x1="410.4" y1="194.50" x2="426.4" y2="194.50" stroke="#ead8d8" stroke-width="0.35"/>
<line x1="410.4" y1="202.10" x2="426.4" y2="202.10" stroke="#ead8d8" stroke-width="0.35"/>
<line x1="410.4" y1="209.70" x2="426.4" y2="209.70" stroke="#ead8d8" stroke-width="0.35"/>
<line x1="410.4" y1="217.30" x2="426.4" y2="217.30" stroke="#ead8d8" stroke-width="0.35"/>
<line x1="410.4" y1="224.90" x2="426.4" y2="224.90" stroke="#ead8d8" stroke-width="0.35"/>
<line x1="410.4" y1="232.50" x2="426.4" y2="232.50" stroke="#ead8d8" stroke-width="0.35"/>
<line x1="410.4" y1="240.10" x2="426.4" y2="240.10" stroke="#ead8d8" stroke-width="0.35"/>
<line x1="410.4" y1="247.70" x2="426.4" y2="247.70" stroke="#ead8d8" stroke-width="0.35"/>
<line x1="410.4" y1="255.30" x2="426.4" y2="255.30" stroke="#ead8d8" stroke-width="0.35"/>
<line x1="410.4" y1="262.90" x2="426.4" y2="262.90" stroke="#ead8d8" stroke-width="0.35"/>
<line x1="410.4" y1="270.50" x2="426.4" y2="270.50" stroke="#ead8d8" stroke-width="0.35"/>
<line x1="410.4" y1="278.10" x2="426.4" y2="278.10" stroke="#ead8d8" stroke-width="0.35"/>
<line x1="410.4" y1="285.70" x2="426.4" y2="285.70" stroke="#ead8d8" stroke-width="0.35"/>
<line x1="410.4" y1="293.30" x2="426.4" y2="293.30" stroke="#ead8d8" stroke-width="0.35"/>
<line x1="410.4" y1="300.90" x2="426.4" y2="300.90" stroke="#ead8d8" stroke-width="0.35"/>
<line x1="410.4" y1="308.50" x2="426.4" y2="308.50" stroke="#ead8d8" stroke-width="0.35"/>
<line x1="410.4" y1="316.10" x2="426.4" y2="316.10" stroke="#ead8d8" stroke-width="0.35"/>
<line x1="410.40" y1="164.1" x2="410.40" y2="316.10" stroke="#ead8d8" stroke-width="0.35"/>
<line x1="418.40" y1="164.1" x2="418.40" y2="316.10" stroke="#ead8d8" stroke-width="0.35"/>
<line x1="426.40" y1="164.1" x2="426.40" y2="316.10" stroke="#ead8d8" stroke-width="0.35"/>
<text stroke="#fbe4e4" x="414.40" y="169.40" font-size="4.2" fill="#fbe4e4" text-anchor="middle">13</text>
<text stroke="#4a1c1c" x="422.40" y="169.40" font-size="4.2" fill="#4a1c1c" text-anchor="middle">3</text>
<text stroke="#fbe4e4" x="414.40" y="177.00" font-size="4.2" fill="#fbe4e4" text-anchor="middle">12</text>
<text stroke="#fbe4e4" x="422.40" y="177.00" font-size="4.2" fill="#fbe4e4" text-anchor="middle">6</text>
<text stroke="#fbe4e4" x="414.40" y="184.60" font-size="4.2" fill="#fbe4e4" text-anchor="middle">12</text>
<text stroke="#4a1c1c" x="422.40" y="184.60" font-size="4.2" fill="#4a1c1c" text-anchor="middle">1</text>
<text stroke="#fbe4e4" x="414.40" y="192.20" font-size="4.2" fill="#fbe4e4" text-anchor="middle">12</text>
<text stroke="#fbe4e4" x="414.40" y="199.80" font-size="4.2" fill="#fbe4e4" text-anchor="middle">8</text>
<text stroke="#4a1c1c" x="422.40" y="199.80" font-size="4.2" fill="#4a1c1c" text-anchor="middle">1</text>
<text stroke="#fbe4e4" x="414.40" y="207.40" font-size="4.2" fill="#fbe4e4" text-anchor="middle">8</text>
<text stroke="#4a1c1c" x="422.40" y="207.40" font-size="4.2" fill="#4a1c1c" text-anchor="middle">1</text>
<text stroke="#fbe4e4" x="414.40" y="215.00" font-size="4.2" fill="#fbe4e4" text-anchor="middle">8</text>
<text stroke="#fbe4e4" x="414.40" y="222.60" font-size="4.2" fill="#fbe4e4" text-anchor="middle">8</text>
<text stroke="#4a1c1c" x="414.40" y="230.20" font-size="4.2" fill="#4a1c1c" text-anchor="middle">2</text>
<text stroke="#4a1c1c" x="414.40" y="237.80" font-size="4.2" fill="#4a1c1c" text-anchor="middle">1</text>
<text stroke="#fbe4e4" x="422.40" y="237.80" font-size="4.2" fill="#fbe4e4" text-anchor="middle">8</text>
<text stroke="#4a1c1c" x="414.40" y="245.40" font-size="4.2" fill="#4a1c1c" text-anchor="middle">1</text>
<text stroke="#fbe4e4" x="422.40" y="245.40" font-size="4.2" fill="#fbe4e4" text-anchor="middle">8</text>
<text stroke="#4a1c1c" x="414.40" y="253.00" font-size="4.2" fill="#4a1c1c" text-anchor="middle">1</text>
<text stroke="#4a1c1c" x="422.40" y="253.00" font-size="4.2" fill="#4a1c1c" text-anchor="middle">4</text>
<text stroke="#4a1c1c" x="414.40" y="260.60" font-size="4.2" fill="#4a1c1c" text-anchor="middle">1</text>
<text stroke="#4a1c1c" x="422.40" y="260.60" font-size="4.2" fill="#4a1c1c" text-anchor="middle">3</text>
<text stroke="#4a1c1c" x="414.40" y="268.20" font-size="4.2" fill="#4a1c1c" text-anchor="middle">1</text>
<text stroke="#4a1c1c" x="422.40" y="268.20" font-size="4.2" fill="#4a1c1c" text-anchor="middle">3</text>
<text stroke="#fbe4e4" x="422.40" y="275.80" font-size="4.2" fill="#fbe4e4" text-anchor="middle">9</text>
<text stroke="#fbe4e4" x="422.40" y="283.40" font-size="4.2" fill="#fbe4e4" text-anchor="middle">9</text>
<text stroke="#fbe4e4" x="422.40" y="291.00" font-size="4.2" fill="#fbe4e4" text-anchor="middle">7</text>
<text stroke="#fbe4e4" x="422.40" y="298.60" font-size="4.2" fill="#fbe4e4" text-anchor="middle">7</text>
<text stroke="#fbe4e4" x="422.40" y="306.20" font-size="4.2" fill="#fbe4e4" text-anchor="middle">6</text>
<text stroke="#4a1c1c" x="422.40" y="313.80" font-size="4.2" fill="#4a1c1c" text-anchor="middle">2</text>
<rect x="410.4" y="318" width="8.0" height="3" fill="#c23a3c"/>
<rect x="418.4" y="318" width="8.0" height="3" fill="#42709f"/>
<rect x="410.4" y="321.8" width="16.0" height="5.9" fill="#9a2727"/>
<text stroke="#f4ecec" x="418.4" y="326.6" font-size="5" fill="#f4ecec" text-anchor="middle">AD</text>
<rect x="429.0" y="164.1" width="16.0" height="152.00" fill="#fff"/>
<rect x="429.00" y="164.10" width="8.00" height="7.60" fill="#f7c4c4"/>
<rect x="429.00" y="179.30" width="8.00" height="7.60" fill="#f7c4c4"/>
<rect x="437.00" y="179.30" width="8.00" height="7.60" fill="#f7c4c4"/>
<rect x="437.00" y="232.50" width="8.00" height="7.60" fill="#f7c4c4"/>
<rect x="429.00" y="247.70" width="8.00" height="7.60" fill="#f7c4c4"/>
<rect x="429.00" y="255.30" width="8.00" height="7.60" fill="#f7c4c4"/>
<rect x="429.00" y="262.90" width="8.00" height="7.60" fill="#f7c4c4"/>
<rect x="429.00" y="270.50" width="8.00" height="7.60" fill="#f7c4c4"/>
<rect x="437.00" y="308.50" width="8.00" height="7.60" fill="#f7c4c4"/>
<line x1="429.0" y1="164.10" x2="445.0" y2="164.10" stroke="#ead8d8" stroke-width="0.35"/>
<line x1="429.0" y1="171.70" x2="445.0" y2="171.70" stroke="#ead8d8" stroke-width="0.35"/>
<line x1="429.0" y1="179.30" x2="445.0" y2="179.30" stroke="#ead8d8" stroke-width="0.35"/>
<line x1="429.0" y1="186.90" x2="445.0" y2="186.90" stroke="#ead8d8" stroke-width="0.35"/>
<line x1="429.0" y1="194.50" x2="445.0" y2="194.50" stroke="#ead8d8" stroke-width="0.35"/>
<line x1="429.0" y1="202.10" x2="445.0" y2="202.10" stroke="#ead8d8" stroke-width="0.35"/>
<line x1="429.0" y1="209.70" x2="445.0" y2="209.70" stroke="#ead8d8" stroke-width="0.35"/>
<line x1="429.0" y1="217.30" x2="445.0" y2="217.30" stroke="#ead8d8" stroke-width="0.35"/>
<line x1="429.0" y1="224.90" x2="445.0" y2="224.90" stroke="#ead8d8" stroke-width="0.35"/>
<line x1="429.0" y1="232.50" x2="445.0" y2="232.50" stroke="#ead8d8" stroke-width="0.35"/>
<line x1="429.0" y1="240.10" x2="445.0" y2="240.10" stroke="#ead8d8" stroke-width="0.35"/>
<line x1="429.0" y1="247.70" x2="445.0" y2="247.70" stroke="#ead8d8" stroke-width="0.35"/>
<line x1="429.0" y1="255.30" x2="445.0" y2="255.30" stroke="#ead8d8" stroke-width="0.35"/>
<line x1="429.0" y1="262.90" x2="445.0" y2="262.90" stroke="#ead8d8" stroke-width="0.35"/>
<line x1="429.0" y1="270.50" x2="445.0" y2="270.50" stroke="#ead8d8" stroke-width="0.35"/>
<line x1="429.0" y1="278.10" x2="445.0" y2="278.10" stroke="#ead8d8" stroke-width="0.35"/>
<line x1="429.0" y1="285.70" x2="445.0" y2="285.70" stroke="#ead8d8" stroke-width="0.35"/>
<line x1="429.0" y1="293.30" x2="445.0" y2="293.30" stroke="#ead8d8" stroke-width="0.35"/>
<line x1="429.0" y1="300.90" x2="445.0" y2="300.90" stroke="#ead8d8" stroke-width="0.35"/>
<line x1="429.0" y1="308.50" x2="445.0" y2="308.50" stroke="#ead8d8" stroke-width="0.35"/>
<line x1="429.0" y1="316.10" x2="445.0" y2="316.10" stroke="#ead8d8" stroke-width="0.35"/>
<line x1="429.00" y1="164.1" x2="429.00" y2="316.10" stroke="#ead8d8" stroke-width="0.35"/>
<line x1="437.00" y1="164.1" x2="437.00" y2="316.10" stroke="#ead8d8" stroke-width="0.35"/>
<line x1="445.00" y1="164.1" x2="445.00" y2="316.10" stroke="#ead8d8" stroke-width="0.35"/>
<text stroke="#4a1c1c" x="433.00" y="169.40" font-size="4.2" fill="#4a1c1c" text-anchor="middle">1</text>
<text stroke="#4a1c1c" x="433.00" y="184.60" font-size="4.2" fill="#4a1c1c" text-anchor="middle">1</text>
<text stroke="#4a1c1c" x="441.00" y="184.60" font-size="4.2" fill="#4a1c1c" text-anchor="middle">1</text>
<text stroke="#4a1c1c" x="441.00" y="237.80" font-size="4.2" fill="#4a1c1c" text-anchor="middle">1</text>
<text stroke="#4a1c1c" x="433.00" y="253.00" font-size="4.2" fill="#4a1c1c" text-anchor="middle">1</text>
<text stroke="#4a1c1c" x="433.00" y="260.60" font-size="4.2" fill="#4a1c1c" text-anchor="middle">1</text>
<text stroke="#4a1c1c" x="433.00" y="268.20" font-size="4.2" fill="#4a1c1c" text-anchor="middle">1</text>
<text stroke="#4a1c1c" x="433.00" y="275.80" font-size="4.2" fill="#4a1c1c" text-anchor="middle">1</text>
<text stroke="#4a1c1c" x="441.00" y="313.80" font-size="4.2" fill="#4a1c1c" text-anchor="middle">1</text>
<rect x="429.0" y="318" width="8.0" height="3" fill="#c23a3c"/>
<rect x="437.0" y="318" width="8.0" height="3" fill="#42709f"/>
<rect x="429.0" y="321.8" width="16.0" height="5.9" fill="#4a78b0"/>
<text stroke="#f4ecec" x="437.0" y="326.6" font-size="5" fill="#f4ecec" text-anchor="middle">PD</text>
<rect x="447.6" y="164.1" width="16.0" height="152.00" fill="#fff"/>
<rect x="447.60" y="164.10" width="8.00" height="7.60" fill="#f7c4c4"/>
<rect x="447.60" y="171.70" width="8.00" height="7.60" fill="#f7c4c4"/>
<rect x="455.60" y="179.30" width="8.00" height="7.60" fill="#f7c4c4"/>
<rect x="447.60" y="186.90" width="8.00" height="7.60" fill="#f7c4c4"/>
<rect x="455.60" y="194.50" width="8.00" height="7.60" fill="#f7c4c4"/>
<rect x="455.60" y="202.10" width="8.00" height="7.60" fill="#f7c4c4"/>
<rect x="455.60" y="224.90" width="8.00" height="7.60" fill="#f7c4c4"/>
<rect x="455.60" y="232.50" width="8.00" height="7.60" fill="#f7c4c4"/>
<rect x="455.60" y="240.10" width="8.00" height="7.60" fill="#f7c4c4"/>
<rect x="455.60" y="247.70" width="8.00" height="7.60" fill="#f7c4c4"/>
<rect x="455.60" y="255.30" width="8.00" height="7.60" fill="#f7c4c4"/>
<rect x="455.60" y="262.90" width="8.00" height="7.60" fill="#f7c4c4"/>
<rect x="455.60" y="270.50" width="8.00" height="7.60" fill="#f7c4c4"/>
<rect x="455.60" y="278.10" width="8.00" height="7.60" fill="#f7c4c4"/>
<rect x="455.60" y="285.70" width="8.00" height="7.60" fill="#f7c4c4"/>
<rect x="455.60" y="293.30" width="8.00" height="7.60" fill="#f7c4c4"/>
<rect x="455.60" y="300.90" width="8.00" height="7.60" fill="#f7c4c4"/>
<rect x="455.60" y="308.50" width="8.00" height="7.60" fill="#f7c4c4"/>
<line x1="447.6" y1="164.10" x2="463.6" y2="164.10" stroke="#ead8d8" stroke-width="0.35"/>
<line x1="447.6" y1="171.70" x2="463.6" y2="171.70" stroke="#ead8d8" stroke-width="0.35"/>
<line x1="447.6" y1="179.30" x2="463.6" y2="179.30" stroke="#ead8d8" stroke-width="0.35"/>
<line x1="447.6" y1="186.90" x2="463.6" y2="186.90" stroke="#ead8d8" stroke-width="0.35"/>
<line x1="447.6" y1="194.50" x2="463.6" y2="194.50" stroke="#ead8d8" stroke-width="0.35"/>
<line x1="447.6" y1="202.10" x2="463.6" y2="202.10" stroke="#ead8d8" stroke-width="0.35"/>
<line x1="447.6" y1="209.70" x2="463.6" y2="209.70" stroke="#ead8d8" stroke-width="0.35"/>
<line x1="447.6" y1="217.30" x2="463.6" y2="217.30" stroke="#ead8d8" stroke-width="0.35"/>
<line x1="447.6" y1="224.90" x2="463.6" y2="224.90" stroke="#ead8d8" stroke-width="0.35"/>
<line x1="447.6" y1="232.50" x2="463.6" y2="232.50" stroke="#ead8d8" stroke-width="0.35"/>
<line x1="447.6" y1="240.10" x2="463.6" y2="240.10" stroke="#ead8d8" stroke-width="0.35"/>
<line x1="447.6" y1="247.70" x2="463.6" y2="247.70" stroke="#ead8d8" stroke-width="0.35"/>
<line x1="447.6" y1="255.30" x2="463.6" y2="255.30" stroke="#ead8d8" stroke-width="0.35"/>
<line x1="447.6" y1="262.90" x2="463.6" y2="262.90" stroke="#ead8d8" stroke-width="0.35"/>
<line x1="447.6" y1="270.50" x2="463.6" y2="270.50" stroke="#ead8d8" stroke-width="0.35"/>
<line x1="447.6" y1="278.10" x2="463.6" y2="278.10" stroke="#ead8d8" stroke-width="0.35"/>
<line x1="447.6" y1="285.70" x2="463.6" y2="285.70" stroke="#ead8d8" stroke-width="0.35"/>
<line x1="447.6" y1="293.30" x2="463.6" y2="293.30" stroke="#ead8d8" stroke-width="0.35"/>
<line x1="447.6" y1="300.90" x2="463.6" y2="300.90" stroke="#ead8d8" stroke-width="0.35"/>
<line x1="447.6" y1="308.50" x2="463.6" y2="308.50" stroke="#ead8d8" stroke-width="0.35"/>
<line x1="447.6" y1="316.10" x2="463.6" y2="316.10" stroke="#ead8d8" stroke-width="0.35"/>
<line x1="447.60" y1="164.1" x2="447.60" y2="316.10" stroke="#ead8d8" stroke-width="0.35"/>
<line x1="455.60" y1="164.1" x2="455.60" y2="316.10" stroke="#ead8d8" stroke-width="0.35"/>
<line x1="463.60" y1="164.1" x2="463.60" y2="316.10" stroke="#ead8d8" stroke-width="0.35"/>
<text stroke="#4a1c1c" x="451.60" y="169.40" font-size="4.2" fill="#4a1c1c" text-anchor="middle">1</text>
<text stroke="#4a1c1c" x="451.60" y="177.00" font-size="4.2" fill="#4a1c1c" text-anchor="middle">1</text>
<text stroke="#4a1c1c" x="459.60" y="184.60" font-size="4.2" fill="#4a1c1c" text-anchor="middle">1</text>
<text stroke="#4a1c1c" x="451.60" y="192.20" font-size="4.2" fill="#4a1c1c" text-anchor="middle">1</text>
<text stroke="#4a1c1c" x="459.60" y="199.80" font-size="4.2" fill="#4a1c1c" text-anchor="middle">1</text>
<text stroke="#4a1c1c" x="459.60" y="207.40" font-size="4.2" fill="#4a1c1c" text-anchor="middle">1</text>
<text stroke="#4a1c1c" x="459.60" y="230.20" font-size="4.2" fill="#4a1c1c" text-anchor="middle">1</text>
<text stroke="#4a1c1c" x="459.60" y="237.80" font-size="4.2" fill="#4a1c1c" text-anchor="middle">1</text>
<text stroke="#4a1c1c" x="459.60" y="245.40" font-size="4.2" fill="#4a1c1c" text-anchor="middle">1</text>
<text stroke="#4a1c1c" x="459.60" y="253.00" font-size="4.2" fill="#4a1c1c" text-anchor="middle">1</text>
<text stroke="#4a1c1c" x="459.60" y="260.60" font-size="4.2" fill="#4a1c1c" text-anchor="middle">1</text>
<text stroke="#4a1c1c" x="459.60" y="268.20" font-size="4.2" fill="#4a1c1c" text-anchor="middle">1</text>
<text stroke="#4a1c1c" x="459.60" y="275.80" font-size="4.2" fill="#4a1c1c" text-anchor="middle">1</text>
<text stroke="#4a1c1c" x="459.60" y="283.40" font-size="4.2" fill="#4a1c1c" text-anchor="middle">1</text>
<text stroke="#4a1c1c" x="459.60" y="291.00" font-size="4.2" fill="#4a1c1c" text-anchor="middle">1</text>
<text stroke="#4a1c1c" x="459.60" y="298.60" font-size="4.2" fill="#4a1c1c" text-anchor="middle">1</text>
<text stroke="#4a1c1c" x="459.60" y="306.20" font-size="4.2" fill="#4a1c1c" text-anchor="middle">1</text>
<text stroke="#4a1c1c" x="459.60" y="313.80" font-size="4.2" fill="#4a1c1c" text-anchor="middle">1</text>
<rect x="447.6" y="318" width="8.0" height="3" fill="#c23a3c"/>
<rect x="455.6" y="318" width="8.0" height="3" fill="#42709f"/>
<rect x="447.6" y="321.8" width="16.0" height="5.9" fill="#b0612f"/>
<text stroke="#f4ecec" x="455.6" y="326.6" font-size="5" fill="#f4ecec" text-anchor="middle">SCZ</text>
<rect x="466.2" y="164.1" width="16.0" height="152.00" fill="#fff"/>
<rect x="466.20" y="164.10" width="8.00" height="7.60" fill="#f7c4c4"/>
<rect x="466.20" y="171.70" width="8.00" height="7.60" fill="#f7c4c4"/>
<rect x="466.20" y="186.90" width="8.00" height="7.60" fill="#f7c4c4"/>
<rect x="474.20" y="224.90" width="8.00" height="7.60" fill="#f7c4c4"/>
<rect x="474.20" y="232.50" width="8.00" height="7.60" fill="#f7c4c4"/>
<rect x="474.20" y="240.10" width="8.00" height="7.60" fill="#f7c4c4"/>
<rect x="474.20" y="247.70" width="8.00" height="7.60" fill="#f7c4c4"/>
<rect x="474.20" y="255.30" width="8.00" height="7.60" fill="#f7c4c4"/>
<rect x="474.20" y="262.90" width="8.00" height="7.60" fill="#f7c4c4"/>
<rect x="474.20" y="285.70" width="8.00" height="7.60" fill="#f7c4c4"/>
<rect x="474.20" y="293.30" width="8.00" height="7.60" fill="#f7c4c4"/>
<rect x="474.20" y="300.90" width="8.00" height="7.60" fill="#f7c4c4"/>
<rect x="474.20" y="308.50" width="8.00" height="7.60" fill="#f7c4c4"/>
<line x1="466.2" y1="164.10" x2="482.2" y2="164.10" stroke="#ead8d8" stroke-width="0.35"/>
<line x1="466.2" y1="171.70" x2="482.2" y2="171.70" stroke="#ead8d8" stroke-width="0.35"/>
<line x1="466.2" y1="179.30" x2="482.2" y2="179.30" stroke="#ead8d8" stroke-width="0.35"/>
<line x1="466.2" y1="186.90" x2="482.2" y2="186.90" stroke="#ead8d8" stroke-width="0.35"/>
<line x1="466.2" y1="194.50" x2="482.2" y2="194.50" stroke="#ead8d8" stroke-width="0.35"/>
<line x1="466.2" y1="202.10" x2="482.2" y2="202.10" stroke="#ead8d8" stroke-width="0.35"/>
<line x1="466.2" y1="209.70" x2="482.2" y2="209.70" stroke="#ead8d8" stroke-width="0.35"/>
<line x1="466.2" y1="217.30" x2="482.2" y2="217.30" stroke="#ead8d8" stroke-width="0.35"/>
<line x1="466.2" y1="224.90" x2="482.2" y2="224.90" stroke="#ead8d8" stroke-width="0.35"/>
<line x1="466.2" y1="232.50" x2="482.2" y2="232.50" stroke="#ead8d8" stroke-width="0.35"/>
<line x1="466.2" y1="240.10" x2="482.2" y2="240.10" stroke="#ead8d8" stroke-width="0.35"/>
<line x1="466.2" y1="247.70" x2="482.2" y2="247.70" stroke="#ead8d8" stroke-width="0.35"/>
<line x1="466.2" y1="255.30" x2="482.2" y2="255.30" stroke="#ead8d8" stroke-width="0.35"/>
<line x1="466.2" y1="262.90" x2="482.2" y2="262.90" stroke="#ead8d8" stroke-width="0.35"/>
<line x1="466.2" y1="270.50" x2="482.2" y2="270.50" stroke="#ead8d8" stroke-width="0.35"/>
<line x1="466.2" y1="278.10" x2="482.2" y2="278.10" stroke="#ead8d8" stroke-width="0.35"/>
<line x1="466.2" y1="285.70" x2="482.2" y2="285.70" stroke="#ead8d8" stroke-width="0.35"/>
<line x1="466.2" y1="293.30" x2="482.2" y2="293.30" stroke="#ead8d8" stroke-width="0.35"/>
<line x1="466.2" y1="300.90" x2="482.2" y2="300.90" stroke="#ead8d8" stroke-width="0.35"/>
<line x1="466.2" y1="308.50" x2="482.2" y2="308.50" stroke="#ead8d8" stroke-width="0.35"/>
<line x1="466.2" y1="316.10" x2="482.2" y2="316.10" stroke="#ead8d8" stroke-width="0.35"/>
<line x1="466.20" y1="164.1" x2="466.20" y2="316.10" stroke="#ead8d8" stroke-width="0.35"/>
<line x1="474.20" y1="164.1" x2="474.20" y2="316.10" stroke="#ead8d8" stroke-width="0.35"/>
<line x1="482.20" y1="164.1" x2="482.20" y2="316.10" stroke="#ead8d8" stroke-width="0.35"/>
<text stroke="#4a1c1c" x="470.20" y="169.40" font-size="4.2" fill="#4a1c1c" text-anchor="middle">1</text>
<text stroke="#4a1c1c" x="470.20" y="177.00" font-size="4.2" fill="#4a1c1c" text-anchor="middle">1</text>
<text stroke="#4a1c1c" x="470.20" y="192.20" font-size="4.2" fill="#4a1c1c" text-anchor="middle">1</text>
<text stroke="#4a1c1c" x="478.20" y="230.20" font-size="4.2" fill="#4a1c1c" text-anchor="middle">1</text>
<text stroke="#4a1c1c" x="478.20" y="237.80" font-size="4.2" fill="#4a1c1c" text-anchor="middle">1</text>
<text stroke="#4a1c1c" x="478.20" y="245.40" font-size="4.2" fill="#4a1c1c" text-anchor="middle">1</text>
<text stroke="#4a1c1c" x="478.20" y="253.00" font-size="4.2" fill="#4a1c1c" text-anchor="middle">1</text>
<text stroke="#4a1c1c" x="478.20" y="260.60" font-size="4.2" fill="#4a1c1c" text-anchor="middle">1</text>
<text stroke="#4a1c1c" x="478.20" y="268.20" font-size="4.2" fill="#4a1c1c" text-anchor="middle">1</text>
<text stroke="#4a1c1c" x="478.20" y="291.00" font-size="4.2" fill="#4a1c1c" text-anchor="middle">1</text>
<text stroke="#4a1c1c" x="478.20" y="298.60" font-size="4.2" fill="#4a1c1c" text-anchor="middle">1</text>
<text stroke="#4a1c1c" x="478.20" y="306.20" font-size="4.2" fill="#4a1c1c" text-anchor="middle">1</text>
<text stroke="#4a1c1c" x="478.20" y="313.80" font-size="4.2" fill="#4a1c1c" text-anchor="middle">1</text>
<rect x="466.2" y="318" width="8.0" height="3" fill="#c23a3c"/>
<rect x="474.2" y="318" width="8.0" height="3" fill="#42709f"/>
<rect x="466.2" y="321.8" width="16.0" height="5.9" fill="#4e9a3c"/>
<text stroke="#f4ecec" x="474.2" y="326.6" font-size="5" fill="#f4ecec" text-anchor="middle">BD</text>
<text stroke="#222" transform="translate(398.8,319.5) rotate(-90)" font-size="5.1" fill="#222" text-anchor="end">Source</text>
<text stroke="#222" transform="translate(406.9,319.5) rotate(-90)" font-size="5.1" fill="#222" text-anchor="end">Target</text>
<text stroke="#111" x="484.6" y="197.6" font-size="4.1" font-weight="bold" fill="#111">Cell type</text>
<rect x="484.4" y="200.00" width="4.6" height="4.57" fill="#d0302e"/>
<text stroke="#333" x="490.7" y="203.60" font-size="3.9" fill="#333">Ast</text>
<rect x="484.4" y="204.57" width="4.6" height="4.57" fill="#45a046"/>
<text stroke="#333" x="490.7" y="208.17" font-size="3.9" fill="#333">Exc</text>
<rect x="484.4" y="209.14" width="4.6" height="4.57" fill="#8a4a9e"/>
<text stroke="#333" x="490.7" y="212.74" font-size="3.9" fill="#333">Inh</text>
<rect x="484.4" y="213.71" width="4.6" height="4.57" fill="#ef8e34"/>
<text stroke="#333" x="490.7" y="217.31" font-size="3.9" fill="#333">Mic</text>
<rect x="484.4" y="218.28" width="4.6" height="4.57" fill="#c9a0d6"/>
<text stroke="#333" x="490.7" y="221.88" font-size="3.9" fill="#333">Oli</text>
<rect x="484.4" y="222.85" width="4.6" height="4.57" fill="#e88cc0"/>
<text stroke="#333" x="490.7" y="226.45" font-size="3.9" fill="#333">Opc</text>
<rect x="484.4" y="227.42" width="4.6" height="4.57" fill="#3f6f9e"/>
<text stroke="#333" x="490.7" y="231.02" font-size="3.9" fill="#333">End</text>
<text stroke="#111" x="485" y="240.3" font-size="4.1" font-weight="bold" fill="#111">Dataset count</text>
<rect x="485.3" y="242.2" width="4" height="22.6" fill="url(#dg)"/>
<text stroke="#333" x="490.4" y="244.70000000000002" font-size="3.9" fill="#333">15</text>
<text stroke="#333" x="490.4" y="252.6" font-size="3.9" fill="#333">10</text>
<text stroke="#333" x="490.4" y="260.2" font-size="3.9" fill="#333">5</text>
<text stroke="#333" x="490.4" y="267.5" font-size="3.9" fill="#333">0</text>
<text stroke="#111" x="485" y="275" font-size="4.1" font-weight="bold" fill="#111">Direction</text>
<rect x="485" y="277.1" width="4" height="3.3" fill="#c23a3c"/>
<rect x="485" y="280.4" width="4" height="3.3" fill="#42709f"/>
<text stroke="#333" x="490.4" y="280.1" font-size="3.9" fill="#333">Up</text>
<text stroke="#333" x="490.4" y="285.2" font-size="3.9" fill="#333">Down</text>
<g stroke="#ebebeb">
<line x1="50" y1="363.00" x2="246.5" y2="363.00" stroke-width="0.55"/>
<line x1="50" y1="370.90" x2="246.5" y2="370.90" stroke-width="0.55"/>
<line x1="50" y1="378.81" x2="246.5" y2="378.81" stroke-width="0.55"/>
<line x1="50" y1="386.71" x2="246.5" y2="386.71" stroke-width="0.55"/>
<line x1="50" y1="394.62" x2="246.5" y2="394.62" stroke-width="0.55"/>
<line x1="50" y1="402.52" x2="246.5" y2="402.52" stroke-width="0.55"/>
<line x1="50" y1="410.43" x2="246.5" y2="410.43" stroke-width="0.55"/>
<line x1="50" y1="418.33" x2="246.5" y2="418.33" stroke-width="0.55"/>
<line x1="50" y1="426.24" x2="246.5" y2="426.24" stroke-width="0.55"/>
<line x1="50" y1="434.14" x2="246.5" y2="434.14" stroke-width="0.55"/>
<line x1="50" y1="442.05" x2="246.5" y2="442.05" stroke-width="0.55"/>
<line x1="50" y1="449.95" x2="246.5" y2="449.95" stroke-width="0.55"/>
<line x1="50" y1="457.86" x2="246.5" y2="457.86" stroke-width="0.55"/>
<line x1="50" y1="465.76" x2="246.5" y2="465.76" stroke-width="0.55"/>
<line x1="50" y1="473.67" x2="246.5" y2="473.67" stroke-width="0.55"/>
<line x1="50" y1="481.57" x2="246.5" y2="481.57" stroke-width="0.55"/>
<line x1="50" y1="489.48" x2="246.5" y2="489.48" stroke-width="0.55"/>
<line x1="50" y1="497.38" x2="246.5" y2="497.38" stroke-width="0.55"/>
<line x1="50" y1="505.29" x2="246.5" y2="505.29" stroke-width="0.55"/>
<line x1="50" y1="513.19" x2="246.5" y2="513.19" stroke-width="0.55"/>
<line x1="92.95" y1="358.3" x2="92.95" y2="518" stroke-width="0.35"/>
<line x1="160.85" y1="358.3" x2="160.85" y2="518" stroke-width="0.35"/>
<line x1="228.75" y1="358.3" x2="228.75" y2="518" stroke-width="0.35"/>
<line x1="59.00" y1="358.3" x2="59.00" y2="518" stroke-width="0.55"/>
<line x1="126.90" y1="358.3" x2="126.90" y2="518" stroke-width="0.55"/>
<line x1="194.80" y1="358.3" x2="194.80" y2="518" stroke-width="0.55"/>
</g>
<rect x="59" y="359.55" width="161.60" height="6.95" fill="#4d6b9c"/>
<rect x="59" y="367.45" width="158.89" height="6.95" fill="#4d6b9c"/>
<rect x="59" y="375.36" width="150.74" height="6.95" fill="#4d6b9c"/>
<rect x="59" y="383.26" width="149.38" height="6.95" fill="#4d6b9c"/>
<rect x="59" y="391.17" width="124.94" height="6.95" fill="#4d6b9c"/>
<rect x="59" y="399.07" width="112.71" height="6.95" fill="#4d6b9c"/>
<rect x="59" y="406.98" width="101.85" height="6.95" fill="#4d6b9c"/>
<rect x="59" y="414.88" width="100.49" height="6.95" fill="#4d6b9c"/>
<rect x="59" y="422.79" width="99.13" height="6.95" fill="#4d6b9c"/>
<rect x="59" y="430.69" width="95.06" height="6.95" fill="#4d6b9c"/>
<rect x="59" y="438.60" width="92.34" height="6.95" fill="#4d6b9c"/>
<rect x="59" y="446.50" width="90.99" height="6.95" fill="#4d6b9c"/>
<rect x="59" y="454.41" width="85.55" height="6.95" fill="#4d6b9c"/>
<rect x="59" y="462.31" width="67.90" height="6.95" fill="#4d6b9c"/>
<rect x="59" y="470.22" width="66.54" height="6.95" fill="#4d6b9c"/>
<rect x="59" y="478.12" width="62.47" height="6.95" fill="#4d6b9c"/>
<rect x="59" y="486.03" width="57.04" height="6.95" fill="#4d6b9c"/>
<rect x="59" y="493.94" width="57.04" height="6.95" fill="#4d6b9c"/>
<rect x="59" y="501.84" width="52.96" height="6.95" fill="#4d6b9c"/>
<rect x="59" y="509.74" width="48.89" height="6.95" fill="#4d6b9c"/>
<g font-size="5.05" fill="#222" text-anchor="end">
<text stroke="#222" x="47.5" y="364.80">ESR1</text>
<text stroke="#222" x="47.5" y="372.70">GABRA1</text>
<text stroke="#222" x="47.5" y="380.61">HTR2A</text>
<text stroke="#222" x="47.5" y="388.51">HRH1</text>
<text stroke="#222" x="47.5" y="396.42">CHRM1</text>
<text stroke="#222" x="47.5" y="404.32">AR</text>
<text stroke="#222" x="47.5" y="412.23">CHRM3</text>
<text stroke="#222" x="47.5" y="420.13">PPARG</text>
<text stroke="#222" x="47.5" y="428.04">ADRB2</text>
<text stroke="#222" x="47.5" y="435.94">HTR2C</text>
<text stroke="#222" x="47.5" y="443.85">OPRM1</text>
<text stroke="#222" x="47.5" y="451.75">ADRA2A</text>
<text stroke="#222" x="47.5" y="459.66">F10</text>
<text stroke="#222" x="47.5" y="467.56">OPRD1</text>
<text stroke="#222" x="47.5" y="475.47">HSP90AA1</text>
<text stroke="#222" x="47.5" y="483.38">PPARA</text>
<text stroke="#222" x="47.5" y="491.28">GRIA2</text>
<text stroke="#222" x="47.5" y="499.19">KDR</text>
<text stroke="#222" x="47.5" y="507.09">CHRNA4</text>
<text stroke="#222" x="47.5" y="514.99">TNF</text>
</g>
<g font-size="5.0" fill="#222">
<text stroke="#222" x="223.50" y="364.65">119</text>
<text stroke="#222" x="220.79" y="372.55">117</text>
<text stroke="#222" x="212.64" y="380.46">111</text>
<text stroke="#222" x="211.28" y="388.36">110</text>
<text stroke="#222" x="186.84" y="396.27">92</text>
<text stroke="#222" x="174.61" y="404.17">83</text>
<text stroke="#222" x="163.75" y="412.08">75</text>
<text stroke="#222" x="162.39" y="419.98">74</text>
<text stroke="#222" x="161.03" y="427.89">73</text>
<text stroke="#222" x="156.96" y="435.79">70</text>
<text stroke="#222" x="154.24" y="443.70">68</text>
<text stroke="#222" x="152.89" y="451.60">67</text>
<text stroke="#222" x="147.45" y="459.51">63</text>
<text stroke="#222" x="129.80" y="467.41">50</text>
<text stroke="#222" x="128.44" y="475.32">49</text>
<text stroke="#222" x="124.37" y="483.22">46</text>
<text stroke="#222" x="118.94" y="491.13">42</text>
<text stroke="#222" x="118.94" y="499.03">42</text>
<text stroke="#222" x="114.86" y="506.94">39</text>
<text stroke="#222" x="110.79" y="514.84">36</text>
</g>
<g font-size="4.1" fill="#444" text-anchor="middle">
<text stroke="#444" x="59.00" y="523.8">0</text>
<text stroke="#444" x="126.90" y="523.8">50</text>
<text stroke="#444" x="194.80" y="523.8">100</text>
</g>
<text stroke="#222" x="147.8" y="529.6" font-size="5" fill="#222" text-anchor="middle">Number of drugs</text>
<g stroke="#ebebeb">
<line x1="311.5" y1="363.00" x2="511" y2="363.00" stroke-width="0.55"/>
<line x1="311.5" y1="370.90" x2="511" y2="370.90" stroke-width="0.55"/>
<line x1="311.5" y1="378.81" x2="511" y2="378.81" stroke-width="0.55"/>
<line x1="311.5" y1="386.71" x2="511" y2="386.71" stroke-width="0.55"/>
<line x1="311.5" y1="394.62" x2="511" y2="394.62" stroke-width="0.55"/>
<line x1="311.5" y1="402.52" x2="511" y2="402.52" stroke-width="0.55"/>
<line x1="311.5" y1="410.43" x2="511" y2="410.43" stroke-width="0.55"/>
<line x1="311.5" y1="418.33" x2="511" y2="418.33" stroke-width="0.55"/>
<line x1="311.5" y1="426.24" x2="511" y2="426.24" stroke-width="0.55"/>
<line x1="311.5" y1="434.14" x2="511" y2="434.14" stroke-width="0.55"/>
<line x1="311.5" y1="442.05" x2="511" y2="442.05" stroke-width="0.55"/>
<line x1="311.5" y1="449.95" x2="511" y2="449.95" stroke-width="0.55"/>
<line x1="311.5" y1="457.86" x2="511" y2="457.86" stroke-width="0.55"/>
<line x1="311.5" y1="465.76" x2="511" y2="465.76" stroke-width="0.55"/>
<line x1="311.5" y1="473.67" x2="511" y2="473.67" stroke-width="0.55"/>
<line x1="311.5" y1="481.57" x2="511" y2="481.57" stroke-width="0.55"/>
<line x1="311.5" y1="489.48" x2="511" y2="489.48" stroke-width="0.55"/>
<line x1="311.5" y1="497.38" x2="511" y2="497.38" stroke-width="0.55"/>
<line x1="311.5" y1="505.29" x2="511" y2="505.29" stroke-width="0.55"/>
<line x1="311.5" y1="513.19" x2="511" y2="513.19" stroke-width="0.55"/>
<line x1="342.56" y1="358.3" x2="342.56" y2="518" stroke-width="0.35"/>
<line x1="386.19" y1="358.3" x2="386.19" y2="518" stroke-width="0.35"/>
<line x1="429.81" y1="358.3" x2="429.81" y2="518" stroke-width="0.35"/>
<line x1="473.44" y1="358.3" x2="473.44" y2="518" stroke-width="0.35"/>
<line x1="320.75" y1="358.3" x2="320.75" y2="518" stroke-width="0.55"/>
<line x1="364.38" y1="358.3" x2="364.38" y2="518" stroke-width="0.55"/>
<line x1="408.00" y1="358.3" x2="408.00" y2="518" stroke-width="0.55"/>
<line x1="451.62" y1="358.3" x2="451.62" y2="518" stroke-width="0.55"/>
<line x1="495.25" y1="358.3" x2="495.25" y2="518" stroke-width="0.55"/>
</g>
<rect x="320.75" y="359.55" width="163.77" height="6.95" fill="#4d6b9c"/>
<rect x="320.75" y="367.45" width="119.78" height="6.95" fill="#4d6b9c"/>
<rect x="320.75" y="375.36" width="108.85" height="6.95" fill="#4d6b9c"/>
<rect x="320.75" y="383.26" width="44.86" height="6.95" fill="#4d6b9c"/>
<rect x="320.75" y="391.17" width="40.97" height="6.95" fill="#4d6b9c"/>
<rect x="320.75" y="399.07" width="38.48" height="6.95" fill="#4d6b9c"/>
<rect x="320.75" y="406.98" width="36.35" height="6.95" fill="#4d6b9c"/>
<rect x="320.75" y="414.88" width="33.89" height="6.95" fill="#4d6b9c"/>
<rect x="320.75" y="422.79" width="23.70" height="6.95" fill="#4d6b9c"/>
<rect x="320.75" y="430.69" width="23.42" height="6.95" fill="#4d6b9c"/>
<rect x="320.75" y="438.60" width="23.00" height="6.95" fill="#4d6b9c"/>
<rect x="320.75" y="446.50" width="23.00" height="6.95" fill="#4d6b9c"/>
<rect x="320.75" y="454.41" width="19.28" height="6.95" fill="#4d6b9c"/>
<rect x="320.75" y="462.31" width="16.82" height="6.95" fill="#4d6b9c"/>
<rect x="320.75" y="470.22" width="15.32" height="6.95" fill="#4d6b9c"/>
<rect x="320.75" y="478.12" width="15.32" height="6.95" fill="#4d6b9c"/>
<rect x="320.75" y="486.03" width="15.16" height="6.95" fill="#4d6b9c"/>
<rect x="320.75" y="493.94" width="13.51" height="6.95" fill="#4d6b9c"/>
<rect x="320.75" y="501.84" width="11.08" height="6.95" fill="#4d6b9c"/>
<rect x="320.75" y="509.74" width="10.59" height="6.95" fill="#4d6b9c"/>
<g font-size="5.05" fill="#222" text-anchor="end">
<text stroke="#222" x="309.5" y="364.80">GRM5</text>
<text stroke="#222" x="309.5" y="372.70">CHRM1</text>
<text stroke="#222" x="309.5" y="380.61">GRM2</text>
<text stroke="#222" x="309.5" y="388.51">GABA−R*</text>
<text stroke="#222" x="309.5" y="396.42">GRM4</text>
<text stroke="#222" x="309.5" y="404.32">CNR1</text>
<text stroke="#222" x="309.5" y="412.23">GRIN2A</text>
<text stroke="#222" x="309.5" y="420.13">APP</text>
<text stroke="#222" x="309.5" y="428.04">PKM</text>
<text stroke="#222" x="309.5" y="435.94">EGFR</text>
<text stroke="#222" x="309.5" y="443.85">GABBR1</text>
<text stroke="#222" x="309.5" y="451.75">GABBR2</text>
<text stroke="#222" x="309.5" y="459.66">GLS</text>
<text stroke="#222" x="309.5" y="467.56">GRIA2</text>
<text stroke="#222" x="309.5" y="475.47">GRIN2B</text>
<text stroke="#222" x="309.5" y="483.38">CHRNA4</text>
<text stroke="#222" x="309.5" y="491.28">ADORA1</text>
<text stroke="#222" x="309.5" y="499.19">GRM1</text>
<text stroke="#222" x="309.5" y="507.09">PSEN1</text>
<text stroke="#222" x="309.5" y="514.99">GRM3</text>
</g>
<g font-size="4.8" fill="#222">
<text stroke="#222" x="484.82" y="364.65">9385</text>
<text stroke="#222" x="440.83" y="372.55">6864</text>
<text stroke="#222" x="429.90" y="380.46">6238</text>
<text stroke="#222" x="365.91" y="388.36">2571</text>
<text stroke="#222" x="362.02" y="396.27">2348</text>
<text stroke="#222" x="359.53" y="404.17">2205</text>
<text stroke="#222" x="357.40" y="412.08">2083</text>
<text stroke="#222" x="354.94" y="419.98">1942</text>
<text stroke="#222" x="344.75" y="427.89">1358</text>
<text stroke="#222" x="344.47" y="435.79">1342</text>
<text stroke="#222" x="344.05" y="443.70">1318</text>
<text stroke="#222" x="344.05" y="451.60">1318</text>
<text stroke="#222" x="340.33" y="459.51">1105</text>
<text stroke="#222" x="337.87" y="467.41">964</text>
<text stroke="#222" x="336.37" y="475.32">878</text>
<text stroke="#222" x="336.37" y="483.22">878</text>
<text stroke="#222" x="336.21" y="491.13">869</text>
<text stroke="#222" x="334.56" y="499.03">774</text>
<text stroke="#222" x="332.13" y="506.94">635</text>
<text stroke="#222" x="331.64" y="514.84">607</text>
</g>
<g font-size="4.1" fill="#444" text-anchor="middle">
<text stroke="#444" x="320.75" y="523.8">0</text>
<text stroke="#444" x="364.38" y="523.8">2500</text>
<text stroke="#444" x="408.00" y="523.8">5000</text>
<text stroke="#444" x="451.62" y="523.8">7500</text>
<text stroke="#444" x="495.25" y="523.8">10000</text>
</g>
<text stroke="#222" x="404" y="529.6" font-size="5" fill="#222" text-anchor="middle">Number of modulators</text>
</svg></body></html>
